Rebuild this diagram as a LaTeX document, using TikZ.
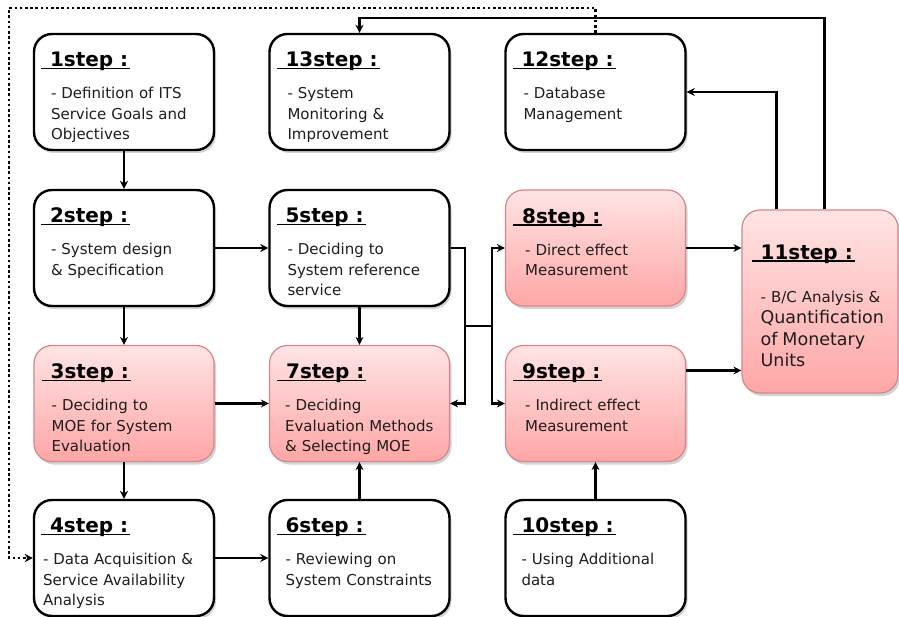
\documentclass[tikz,border=0pt]{standalone}
\usepackage{fontspec}
\setmainfont{DejaVu Sans}
\usetikzlibrary{arrows.meta}
\usetikzlibrary{shadows}

\definecolor{pinktop}{HTML}{FFE4E4}
\definecolor{pinkbot}{HTML}{FFA6A6}
\definecolor{pinkline}{HTML}{D4868A}
\definecolor{bodytext}{HTML}{1E1E1E}

\newcommand\steplabel[1]{\setbox0=\hbox{#1}%
  \rlap{\hspace{-9pt}\rule[-2.5pt]{\dimexpr\wd0+11pt\relax}{1.4pt}}\box0}

\tikzset{
  stepbox/.style={rounded corners=18pt, minimum width=180pt, minimum height=116pt,
    line width=2.4pt, draw=black, fill=white,
    drop shadow={opacity=.35, shadow xshift=2pt, shadow yshift=-3pt}},
  pinkbox/.style={stepbox, draw=pinkline, line width=1.2pt,
    top color=pinktop, bottom color=pinkbot},
  steptitle/.style={anchor=base west, inner sep=0pt,
    font=\fontsize{20}{24}\selectfont\bfseries},
  stepbody/.style={anchor=base west, inner sep=0pt, align=left, text=bodytext,
    text width=172pt, font=\fontsize{15}{20.5}\selectfont},
  link/.style={line width=2.4pt},
  feedback/.style={line width=2.4pt, dash pattern=on 2.6pt off 2.6pt},
  >={Stealth[length=8pt,width=8pt]}
}

\begin{document}
\begin{tikzpicture}[x=1pt,y=-1pt]
  \useasboundingbox (0,0) rectangle (899,617);

  \node (s1) [stepbox] at (124,92) {};
  \node (s13) [stepbox] at (359.5,92) {};
  \node (s12) [stepbox] at (595.5,92) {};
  \node (s2) [stepbox] at (124,248) {};
  \node (s5) [stepbox] at (359.5,248) {};
  \node (s8) [pinkbox] at (595.5,248) {};
  \node (s3) [pinkbox] at (124,403.5) {};
  \node (s7) [pinkbox] at (359.5,403.5) {};
  \node (s9) [pinkbox] at (595.5,403.5) {};
  \node (s4) [stepbox] at (124,558) {};
  \node (s6) [stepbox] at (359.5,558) {};
  \node (s10) [stepbox] at (595.5,558) {};
  \node (s11) [pinkbox, minimum width=156pt, minimum height=183pt] at (820,301.5) {};

  \path (s1.north west) ++(17,34) node (s1t) [steptitle] {\steplabel{1step :}};
  \path (s1.north west) ++(18,66) node (s1b) [stepbody]
    {- Definition of ITS\\Service Goals and\\Objectives};
  \path (s13.north west) ++(17,34) node (s13t) [steptitle] {\steplabel{13step :}};
  \path (s13.north west) ++(19,66) node (s13b) [stepbody]
    {- System\\Monitoring \&\\Improvement};
  \path (s12.north west) ++(17,34) node (s12t) [steptitle] {\steplabel{12step :}};
  \path (s12.north west) ++(19,66) node (s12b) [stepbody]
    {- Database\\Management};
  \path (s2.north west) ++(17,34) node (s2t) [steptitle] {\steplabel{2step :}};
  \path (s2.north west) ++(18,66) node (s2b) [stepbody]
    {- System design\\\& Specification};
  \path (s5.north west) ++(17,34) node (s5t) [steptitle] {\steplabel{5step :}};
  \path (s5.north west) ++(19,66) node (s5b) [stepbody]
    {- Deciding to\\System reference\\service};
  \path (s8.north west) ++(17,34) node (s8t) [steptitle] {\steplabel{8step :}};
  \path (s8.north west) ++(20,66) node (s8b) [stepbody]
    {- Direct effect\\Measurement};
  \path (s3.north west) ++(17,34) node (s3t) [steptitle] {\steplabel{3step :}};
  \path (s3.north west) ++(18,66) node (s3b) [stepbody]
    {- Deciding to\\MOE for System\\Evaluation};
  \path (s7.north west) ++(17,34) node (s7t) [steptitle] {\steplabel{7step :}};
  \path (s7.north west) ++(16,66) node (s7b) [stepbody]
    {- Deciding\\Evaluation Methods\\\& Selecting MOE};
  \path (s9.north west) ++(17,34) node (s9t) [steptitle] {\steplabel{9step :}};
  \path (s9.north west) ++(20,66) node (s9b) [stepbody]
    {- Indirect effect\\Measurement};
  \path (s4.north west) ++(17,34) node (s4t) [steptitle] {\steplabel{4step :}};
  \path (s4.north west) ++(10,66) node (s4b) [stepbody]
    {- Data Acquisition \&\\Service Availability\\Analysis};
  \path (s6.north west) ++(17,34) node (s6t) [steptitle] {\steplabel{6step :}};
  \path (s6.north west) ++(17,66) node (s6b) [stepbody]
    {- Reviewing on\\System Constraints};
  \path (s10.north west) ++(17,34) node (s10t) [steptitle] {\steplabel{10step :}};
  \path (s10.north west) ++(17,66) node (s10b) [stepbody]
    {- Using Additional\\data};
  \path (s11.north west) ++(19,50) node (s11t) [steptitle] {\steplabel{11step :}};
  \path (s11.north west) ++(19,93) node (s11b) [stepbody, text width=140pt]
    {- B/C Analysis \&\\{\fontsize{17.5}{21.5}\selectfont Quantification\\of Monetary\\Units\par}};

  \draw[link,->] (s1) -- (s2);
  \draw[link,->] (s2) -- (s3);
  \draw[link,->] (s3) -- (s4);
  \draw[link,->] (s2) -- (s5);
  \draw[link,->] (s3) -- (s7);
  \draw[link,->] (s4) -- (s6);
  \draw[link,->] (s5) -- (s7);
  \draw[link,->] (s6) -- (s7);
  \draw[link,->] (s10) -- (s9);

  \coordinate (ja) at (465,326);
  \coordinate (jb) at (492,326);
  \draw[link,->] (s5.east) -| (ja) |- (s7.east);
  \draw[link] (ja) -- (jb);
  \draw[link,->] (jb) |- (s8.west);
  \draw[link,->] (jb) |- (s9.west);

  \draw[link,->] (s8) -- (s8 -| s11.west);
  \path (s9.east) ++(0,-33) coordinate (s9o);
  \draw[link,->] (s9o) -- (s9o -| s11.west);

  \path (s11.north west) ++(35,0) coordinate (s11a);
  \draw[link,->] (s11a) |- (s12.east);
  \path (s11.north west) ++(83,0) coordinate (s11b);
  \coordinate (topy) at (0,18);
  \draw[link,->] (s11b) -- (s11b |- topy) -| (s13.north);

  \coordinate (tl) at (9,8);
  \draw[feedback,->] (s12.north) |- (tl) |- (s4.west);
\end{tikzpicture}
\end{document}
